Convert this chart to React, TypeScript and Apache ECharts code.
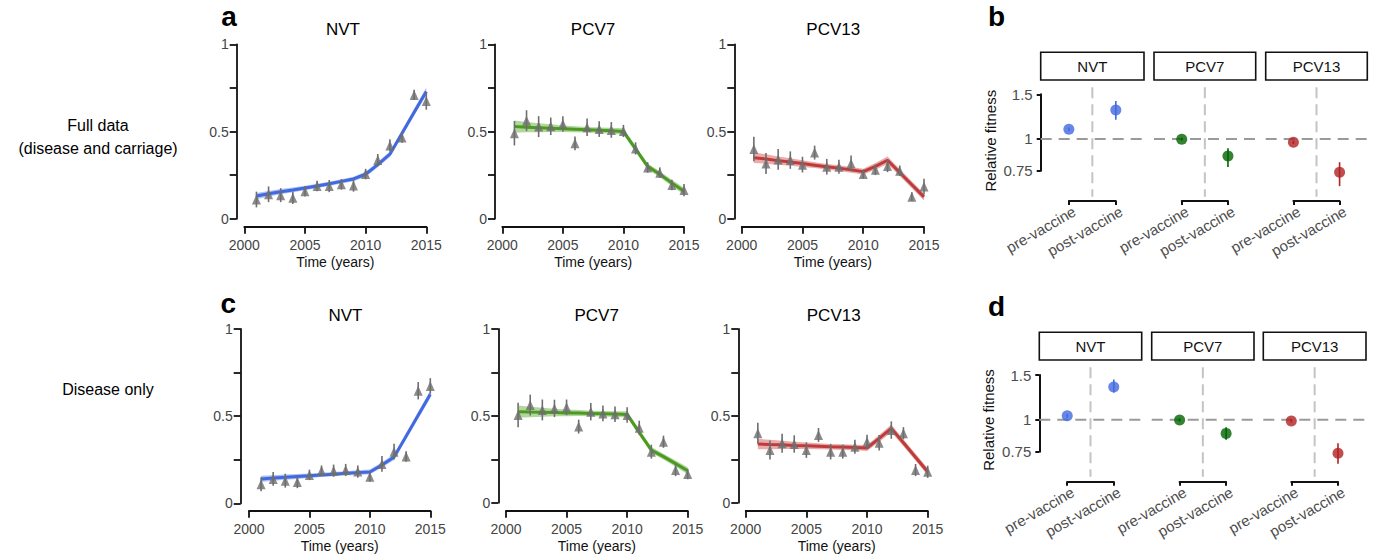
import React, { useEffect, useRef } from 'react';
import * as echarts from 'echarts';

const FONT = '"Liberation Sans", Arial, Helvetica, sans-serif';

// ---------------- data ----------------
const years = [2001, 2002, 2003, 2004, 2005, 2006, 2007, 2008, 2009, 2010, 2011, 2012, 2013, 2014, 2015];
const serotypes = ['NVT', 'PCV7', 'PCV13'];
const rowLabels = ['Full data\n(disease and carriage)', 'Disease only'];
const panelLetters = ['a', 'b', 'c', 'd'];

// Full data (disease and carriage) – observed proportions, error half-widths, fitted line
const fullNVTObs = [0.11, 0.14, 0.135, 0.12, 0.157, 0.187, 0.187, 0.197, 0.19, 0.256, 0.336, 0.42, 0.466, 0.71, 0.675];
const fullNVTErr = [0.045, 0.045, 0.04, 0.035, 0.03, 0.03, 0.035, 0.03, 0.035, 0.03, 0.035, 0.035, 0.03, 0.03, 0.05];
const fullNVTFit = [0.13, 0.143, 0.155, 0.165, 0.176, 0.188, 0.2, 0.214, 0.228, 0.255, 0.31, 0.37, 0.49, 0.61, 0.73];

const fullPCV7Obs = [0.49, 0.562, 0.528, 0.53, 0.543, 0.432, 0.524, 0.514, 0.509, 0.503, 0.403, 0.294, 0.264, 0.193, 0.164];
const fullPCV7Err = [0.07, 0.06, 0.06, 0.05, 0.045, 0.04, 0.05, 0.045, 0.045, 0.035, 0.035, 0.03, 0.03, 0.03, 0.035];
const fullPCV7Fit = [0.528, 0.525, 0.522, 0.519, 0.516, 0.513, 0.51, 0.507, 0.504, 0.5, 0.4, 0.3, 0.255, 0.205, 0.158];

const fullPCV13Obs = [0.4, 0.317, 0.34, 0.336, 0.31, 0.379, 0.298, 0.298, 0.317, 0.256, 0.28, 0.302, 0.275, 0.126, 0.184];
const fullPCV13Err = [0.07, 0.06, 0.06, 0.05, 0.045, 0.04, 0.045, 0.04, 0.045, 0.025, 0.03, 0.035, 0.03, 0.025, 0.045];
const fullPCV13Fit = [0.35, 0.342, 0.333, 0.325, 0.316, 0.307, 0.298, 0.29, 0.28, 0.27, 0.3, 0.335, 0.265, 0.195, 0.125];

// Disease only
const disNVTObs = [0.109, 0.14, 0.13, 0.122, 0.163, 0.187, 0.187, 0.191, 0.182, 0.153, 0.226, 0.296, 0.268, 0.646, 0.673];
const disNVTErr = [0.04, 0.04, 0.04, 0.035, 0.03, 0.03, 0.035, 0.035, 0.035, 0.03, 0.045, 0.045, 0.03, 0.05, 0.045];
const disNVTFit = [0.14, 0.145, 0.15, 0.154, 0.158, 0.163, 0.167, 0.172, 0.176, 0.18, 0.22, 0.265, 0.385, 0.505, 0.625];

const disPCV7Obs = [0.505, 0.562, 0.534, 0.543, 0.549, 0.438, 0.524, 0.514, 0.509, 0.505, 0.432, 0.294, 0.351, 0.188, 0.165];
const disPCV7Err = [0.07, 0.06, 0.06, 0.05, 0.045, 0.04, 0.05, 0.045, 0.045, 0.045, 0.04, 0.04, 0.035, 0.035, 0.03];
const disPCV7Fit = [0.524, 0.522, 0.521, 0.519, 0.517, 0.516, 0.514, 0.512, 0.51, 0.508, 0.405, 0.303, 0.265, 0.225, 0.184];

const disPCV13Obs = [0.4, 0.303, 0.342, 0.338, 0.303, 0.39, 0.294, 0.294, 0.322, 0.351, 0.345, 0.418, 0.4, 0.188, 0.178];
const disPCV13Err = [0.06, 0.055, 0.055, 0.05, 0.045, 0.04, 0.045, 0.04, 0.04, 0.04, 0.045, 0.05, 0.035, 0.035, 0.035];
const disPCV13Fit = [0.338, 0.335, 0.333, 0.33, 0.328, 0.325, 0.322, 0.32, 0.318, 0.315, 0.37, 0.428, 0.345, 0.262, 0.178];

// ribbon half-widths around the fitted line
const bandNVT = [0.018, 0.016, 0.015, 0.014, 0.013, 0.012, 0.012, 0.012, 0.013, 0.014, 0.015, 0.016, 0.018, 0.02, 0.022];
const bandPCV7 = [0.035, 0.03, 0.026, 0.022, 0.019, 0.017, 0.016, 0.016, 0.017, 0.018, 0.018, 0.017, 0.017, 0.018, 0.02];
const bandPCV13 = [0.03, 0.027, 0.024, 0.021, 0.019, 0.017, 0.016, 0.016, 0.016, 0.017, 0.02, 0.022, 0.02, 0.02, 0.02];

// Relative fitness (pre-vaccine, post-vaccine)
const fitnessCats = ['pre-vaccine', 'post-vaccine'];
const fitnessTicks = [0.75, 1, 1.5];
const fullFitNVT = [1.092, 1.3];
const fullFitNVTLo = [1.075, 1.19];
const fullFitNVTHi = [1.11, 1.41];
const fullFitPCV7 = [0.998, 0.857];
const fullFitPCV7Lo = [0.985, 0.775];
const fullFitPCV7Hi = [1.012, 0.92];
const fullFitPCV13 = [0.97, 0.739];
const fullFitPCV13Lo = [0.955, 0.652];
const fullFitPCV13Hi = [0.985, 0.81];

const disFitNVT = [1.038, 1.346];
const disFitNVTLo = [1.02, 1.28];
const disFitNVTHi = [1.055, 1.44];
const disFitPCV7 = [0.999, 0.885];
const disFitPCV7Lo = [0.985, 0.835];
const disFitPCV7Hi = [1.013, 0.935];
const disFitPCV13 = [0.99, 0.739];
const disFitPCV13Lo = [0.975, 0.672];
const disFitPCV13Hi = [1.005, 0.81];

// ---------------- styles / layout ----------------
const lineColors = ['#4169E1', '#4c9a22', '#bf3a3a'];
const ribbonColors = ['rgba(65,105,225,0.42)', 'rgba(100,175,60,0.5)', 'rgba(205,70,70,0.45)'];
const pointColors = ['#4169E1', '#006400', '#B22222'];
const TRI = '#6e6e6e';

const lineLayouts = [
  [
    { x0: 244.3, x1: 426.3, yTop: 44.3, yBot: 218.7, yAxisX: 236.7, xAxisY: 226.7, tx: 343, ty: 29 },
    { x0: 502.3, x1: 684, yTop: 44.3, yBot: 218.7, yAxisX: 495, xAxisY: 226.7, tx: 593, ty: 29 },
    { x0: 741.7, x1: 924, yTop: 44.3, yBot: 218.7, yAxisX: 734.3, xAxisY: 226.7, tx: 833.3, ty: 29 },
  ],
  [
    { x0: 249, x1: 430.3, yTop: 329, yBot: 503.3, yAxisX: 240.7, xAxisY: 510.7, tx: 345.5, ty: 315 },
    { x0: 506, x1: 687.7, yTop: 329, yBot: 502.7, yAxisX: 498.3, xAxisY: 510.7, tx: 596.7, ty: 315 },
    { x0: 745.7, x1: 927.7, yTop: 329, yBot: 502.7, yAxisX: 738.3, xAxisY: 510.7, tx: 833.7, ty: 315 },
  ],
];

const fitLayouts = [
  {
    facets: [[1040.7, 1144], [1154, 1255.7], [1265.7, 1367.3]],
    stripTop: 52.3, stripBot: 80, pTop: 87.3, pBot: 196.7, axTop: 94.3, axBot: 170.7, bracketY: 201,
    ylabX: 990, ylabY: 140.7,
  },
  {
    facets: [[1039.3, 1141.7], [1151.7, 1254], [1263.3, 1366]],
    stripTop: 332.3, stripBot: 360, pTop: 367.3, pBot: 476.7, axTop: 375, axBot: 451.7, bracketY: 481.7,
    ylabX: 988.3, ylabY: 420,
  },
];

const letterPos = [[229, 16], [996.5, 16], [228.3, 303.5], [996.5, 306]];
const rowLabelPos = [[98, 136.5], [108, 389]];

function buildOption() {
  const grid: any[] = [];
  const xAxis: any[] = [];
  const yAxis: any[] = [];
  const series: any[] = [];
  const graphic: any[] = [];

  const lineRows = [
    [
      { obs: fullNVTObs, err: fullNVTErr, fit: fullNVTFit, band: bandNVT },
      { obs: fullPCV7Obs, err: fullPCV7Err, fit: fullPCV7Fit, band: bandPCV7 },
      { obs: fullPCV13Obs, err: fullPCV13Err, fit: fullPCV13Fit, band: bandPCV13 },
    ],
    [
      { obs: disNVTObs, err: disNVTErr, fit: disNVTFit, band: bandNVT },
      { obs: disPCV7Obs, err: disPCV7Err, fit: disPCV7Fit, band: bandPCV7 },
      { obs: disPCV13Obs, err: disPCV13Err, fit: disPCV13Fit, band: bandPCV13 },
    ],
  ];

  lineRows.forEach((row, r) => {
    row.forEach((p, s) => {
      const L = lineLayouts[r][s];
      const gi = grid.length;
      grid.push({ left: L.x0, top: L.yTop, width: L.x1 - L.x0, height: L.yBot - L.yTop });
      xAxis.push({
        type: 'value', gridIndex: gi, min: 2000, max: 2015, interval: 5,
        offset: L.xAxisY - L.yBot,
        axisLine: { show: true, onZero: false, lineStyle: { color: '#111', width: 1.8 } },
        axisTick: { show: true, length: 7, lineStyle: { color: '#111', width: 1.8 } },
        axisLabel: { margin: 11, color: '#444', fontSize: 14, fontFamily: FONT, formatter: (v: number) => String(v) },
        splitLine: { show: false },
        name: 'Time (years)', nameLocation: 'middle', nameGap: 28,
        nameTextStyle: { color: '#111', fontSize: 14, fontFamily: FONT },
      });
      yAxis.push({
        type: 'value', gridIndex: gi, min: 0, max: 1, interval: 0.25,
        offset: L.x0 - L.yAxisX,
        axisLine: { show: true, onZero: false, lineStyle: { color: '#111', width: 1.8 } },
        axisTick: { show: true, length: 7, lineStyle: { color: '#111', width: 1.8 } },
        axisLabel: {
          margin: 8, color: '#444', fontSize: 14, fontFamily: FONT,
          formatter: (v: number) => (v === 0 ? '0' : v === 0.5 ? '0.5' : v === 1 ? '1' : ''),
        },
        splitLine: { show: false },
      });
      const ai = xAxis.length - 1;
      const lo = p.fit.map((v, i) => v - p.band[i]);
      const hi = p.fit.map((v, i) => v + p.band[i]);
      series.push({
        type: 'custom', xAxisIndex: ai, yAxisIndex: ai, silent: true, z: 1,
        data: years.map((y, i) => [y, lo[i], hi[i]]),
        encode: { x: 0, y: [1, 2] },
        renderItem: (params: any, api: any) => {
          if (params.dataIndex !== 0) return { type: 'group', children: [] };
          const top = years.map((y, i) => api.coord([y, hi[i]]));
          const bot = years.map((y, i) => api.coord([y, lo[i]])).reverse();
          return { type: 'polygon', shape: { points: top.concat(bot) }, style: { fill: ribbonColors[s] } };
        },
      });
      series.push({
        type: 'line', xAxisIndex: ai, yAxisIndex: ai, silent: true, z: 2,
        data: years.map((y, i) => [y, p.fit[i]]),
        symbol: 'none', showSymbol: false,
        lineStyle: { color: lineColors[s], width: 3 },
      });
      series.push({
        type: 'custom', xAxisIndex: ai, yAxisIndex: ai, silent: true, z: 3,
        data: years.map((y, i) => [y, p.obs[i] - p.err[i], p.obs[i] + p.err[i]]),
        encode: { x: 0, y: [1, 2] },
        renderItem: (params: any, api: any) => {
          const a = api.coord([api.value(0), api.value(1)]);
          const b = api.coord([api.value(0), api.value(2)]);
          return { type: 'line', shape: { x1: a[0], y1: a[1], x2: b[0], y2: b[1] }, style: { stroke: TRI, lineWidth: 1.6 } };
        },
      });
      series.push({
        type: 'scatter', xAxisIndex: ai, yAxisIndex: ai, silent: true, z: 4,
        data: years.map((y, i) => [y, p.obs[i]]),
        symbol: 'triangle', symbolSize: [9, 10],
        itemStyle: { color: TRI },
      });
      graphic.push({
        type: 'text', x: L.tx, y: L.ty,
        style: { text: serotypes[s], font: `17px ${FONT}`, fill: '#000', align: 'center', verticalAlign: 'middle' },
      });
    });
  });

  const fitRows = [
    [
      { v: fullFitNVT, lo: fullFitNVTLo, hi: fullFitNVTHi },
      { v: fullFitPCV7, lo: fullFitPCV7Lo, hi: fullFitPCV7Hi },
      { v: fullFitPCV13, lo: fullFitPCV13Lo, hi: fullFitPCV13Hi },
    ],
    [
      { v: disFitNVT, lo: disFitNVTLo, hi: disFitNVTHi },
      { v: disFitPCV7, lo: disFitPCV7Lo, hi: disFitPCV7Hi },
      { v: disFitPCV13, lo: disFitPCV13Lo, hi: disFitPCV13Hi },
    ],
  ];

  fitRows.forEach((row, r) => {
    const F = fitLayouts[r];
    const k = (Math.log(1.5) - Math.log(0.75)) / (F.axBot - F.axTop);
    const LMAX = 1.5 * Math.exp((F.axTop - F.pTop) * k);
    const LMIN = 0.75 * Math.exp(-(F.pBot - F.axBot) * k);
    row.forEach((p, s) => {
      const [fx0, fx1] = F.facets[s];
      const w = fx1 - fx0;
      // main panel
      let gi = grid.length;
      grid.push({ left: fx0, top: F.pTop, width: w, height: F.pBot - F.pTop });
      xAxis.push({ type: 'value', gridIndex: gi, min: 0.4, max: 2.6, show: false });
      yAxis.push({ type: 'log', gridIndex: gi, min: LMIN, max: LMAX, show: false });
      const ai = xAxis.length - 1;
      series.push({
        type: 'custom', xAxisIndex: ai, yAxisIndex: ai, silent: true, z: 1,
        data: [[1.5, 1]],
        encode: { x: 0, y: 1 },
        renderItem: (params: any, api: any) => {
          const h0 = api.coord([0.4, 1]);
          const h1 = api.coord([2.6, 1]);
          const v0 = api.coord([1.5, LMAX]);
          const v1 = api.coord([1.5, LMIN]);
          return {
            type: 'group',
            children: [
              { type: 'line', shape: { x1: v0[0], y1: v0[1], x2: v1[0], y2: v1[1] }, style: { stroke: '#c4c4c4', lineWidth: 2, lineDash: [11, 6] } },
              { type: 'line', shape: { x1: h0[0], y1: h0[1], x2: h1[0], y2: h1[1] }, style: { stroke: '#9a9a9a', lineWidth: 2, lineDash: [11, 7] } },
            ],
          };
        },
      });
      series.push({
        type: 'custom', xAxisIndex: ai, yAxisIndex: ai, silent: true, z: 2,
        data: fitnessCats.map((c, i) => [i + 1, p.lo[i], p.hi[i]]),
        encode: { x: 0, y: [1, 2] },
        renderItem: (params: any, api: any) => {
          const a = api.coord([api.value(0), api.value(1)]);
          const b = api.coord([api.value(0), api.value(2)]);
          return { type: 'line', shape: { x1: a[0], y1: a[1], x2: b[0], y2: b[1] }, style: { stroke: pointColors[s], lineWidth: 1.6 } };
        },
      });
      series.push({
        type: 'scatter', xAxisIndex: ai, yAxisIndex: ai, silent: true, z: 3,
        data: fitnessCats.map((c, i) => [i + 1, p.v[i]]),
        symbol: 'circle', symbolSize: 11,
        itemStyle: { color: pointColors[s] },
      });
      // x bracket axis
      gi = grid.length;
      grid.push({ left: fx0 + (0.6 / 2.2) * w, width: w / 2.2, top: F.bracketY - 10, height: 10 });
      xAxis.push({
        type: 'value', gridIndex: gi, min: 1, max: 2, position: 'bottom',
        axisLine: { show: true, onZero: false, lineStyle: { color: '#111', width: 2 } },
        axisTick: { show: true, length: 4, customValues: [1, 2], lineStyle: { color: '#111', width: 2 } },
        axisLabel: {
          customValues: [1, 2], rotate: 30, margin: 3.5, verticalAlign: 'top', padding: [0, -2, 0, 0],
          color: '#4d4d4d', fontSize: 15, fontFamily: FONT,
          formatter: (v: number) => fitnessCats[Math.round(v) - 1],
        },
        splitLine: { show: false },
      });
      yAxis.push({ type: 'value', gridIndex: gi, show: false });
      // facet strip
      graphic.push({
        type: 'rect', shape: { x: fx0, y: F.stripTop, width: w, height: F.stripBot - F.stripTop },
        style: { fill: '#fff', stroke: '#111', lineWidth: 1.6 },
      });
      graphic.push({
        type: 'text', x: fx0 + w / 2, y: (F.stripTop + F.stripBot) / 2,
        style: { text: serotypes[s], font: `15px ${FONT}`, fill: '#111', align: 'center', verticalAlign: 'middle' },
      });
    });
    // y bracket axis
    const [fx0] = F.facets[0];
    const gi = grid.length;
    grid.push({ left: fx0, width: 10, top: F.axTop, height: F.axBot - F.axTop });
    xAxis.push({ type: 'value', gridIndex: gi, show: false });
    yAxis.push({
      type: 'log', gridIndex: gi, min: 0.75, max: 1.5,
      axisLine: { show: true, onZero: false, lineStyle: { color: '#111', width: 2 } },
      axisTick: { show: true, length: 4, customValues: fitnessTicks, lineStyle: { color: '#111', width: 2 } },
      axisLabel: {
        customValues: fitnessTicks, margin: 8, color: '#4d4d4d', fontSize: 15, fontFamily: FONT,
        formatter: (v: number) => String(Math.round(v * 100) / 100),
      },
      splitLine: { show: false },
      minorTick: { show: false },
    });
    graphic.push({
      type: 'text', x: F.ylabX, y: F.ylabY, rotation: Math.PI / 2,
      style: { text: 'Relative fitness', font: `15px ${FONT}`, fill: '#111', align: 'center', verticalAlign: 'middle' },
    });
  });

  rowLabels.forEach((t, i) => {
    graphic.push({
      type: 'text', x: rowLabelPos[i][0], y: rowLabelPos[i][1],
      style: { text: t, font: `16px ${FONT}`, fill: '#000', align: 'center', verticalAlign: 'middle', lineHeight: 23 },
    });
  });
  panelLetters.forEach((t, i) => {
    graphic.push({
      type: 'text', x: letterPos[i][0], y: letterPos[i][1],
      style: { text: t, font: `bold 28px ${FONT}`, fill: '#000', align: 'center', verticalAlign: 'middle' },
    });
  });

  return {
    animation: false,
    backgroundColor: '#fff',
    textStyle: { fontFamily: FONT },
    grid, xAxis, yAxis, series, graphic,
  };
}

export default function App() {
  const ref = useRef<HTMLDivElement>(null);
  useEffect(() => {
    document.body.style.margin = '0';
    const chart = echarts.init(ref.current as HTMLDivElement, null, { renderer: 'svg' });
    chart.setOption(buildOption() as any);
    return () => chart.dispose();
  }, []);
  return <div ref={ref} style={{ width: 1376, height: 559, position: 'absolute', left: 0, top: 0 }} />;
}
